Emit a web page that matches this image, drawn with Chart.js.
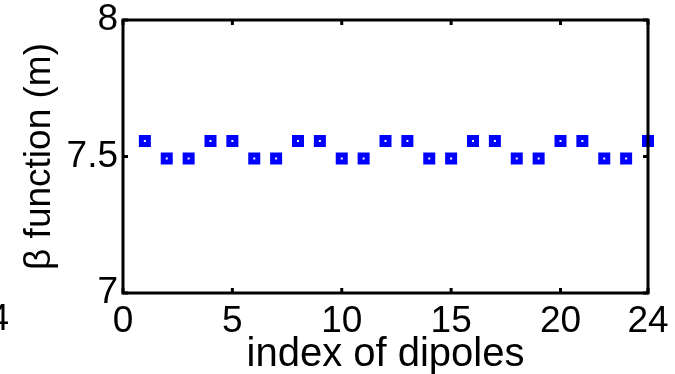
<!DOCTYPE html>
<html>
<head>
<meta charset="utf-8">
<script src="https://cdn.jsdelivr.net/npm/chart.js@4/dist/chart.umd.min.js"></script>
<style>
  html, body { margin: 0; padding: 0; background: #fff; }
  #wrap { width: 675px; height: 374px; position: relative; }
</style>
</head>
<body>
<div id="wrap"><canvas id="beta"></canvas></div>
<script>
// dipole index and beta function at each dipole
const dipoles = [1, 2, 3, 4, 5, 6, 7, 8, 9, 10, 11, 12, 13, 14, 15, 16, 17, 18, 19, 20, 21, 22, 23, 24];
const beta = [7.557, 7.493, 7.493, 7.557, 7.557, 7.493, 7.493, 7.557, 7.557, 7.493, 7.493, 7.557,
              7.557, 7.493, 7.493, 7.557, 7.557, 7.493, 7.493, 7.557, 7.557, 7.493, 7.493, 7.557];
const xTicks = [0, 5, 10, 15, 20, 24];
const yTicks = [7, 7.5, 8];
const yTickLabels = ['7', '7.5', '8'];

const FONT = 'Liberation Sans, Arial, Helvetica, sans-serif';

// matlab-style box with inward ticks on all four sides
const boxPlugin = {
  id: 'box',
  afterDatasetsDraw(chart) {
    const { ctx, chartArea: a, scales } = chart;
    ctx.save();
    ctx.strokeStyle = '#000';
    ctx.lineWidth = 3;
    const t = 5;
    ctx.beginPath();
    xTicks.forEach(v => {
      const px = scales.x.getPixelForValue(v);
      ctx.moveTo(px, a.bottom); ctx.lineTo(px, a.bottom - t);
      ctx.moveTo(px, a.top); ctx.lineTo(px, a.top + t);
    });
    yTicks.forEach(v => {
      const py = scales.y.getPixelForValue(v);
      ctx.moveTo(a.left, py); ctx.lineTo(a.left + t, py);
      ctx.moveTo(a.right, py); ctx.lineTo(a.right - t, py);
    });
    ctx.stroke();
    ctx.strokeRect(a.left, a.top, a.right - a.left, a.bottom - a.top);
    ctx.restore();
  },
  afterDraw(chart) {
    // end label of the neighbouring panel's axis, cut by the edge
    const { ctx } = chart;
    ctx.save();
    ctx.font = '36px ' + FONT;
    ctx.fillStyle = '#000';
    ctx.textAlign = 'right';
    ctx.textBaseline = 'middle';
    ctx.fillText('24', 9, 320);
    ctx.restore();
  }
};

new Chart(document.getElementById('beta'), {
  type: 'scatter',
  data: {
    datasets: [{
      data: dipoles.map((d, i) => ({ x: d, y: beta[i] })),
      pointStyle: 'rect',
      pointRadius: 4.95,
      pointHoverRadius: 4.95,
      borderWidth: 5,
      pointBorderWidth: 5,
      pointBorderColor: '#0000ff',
      pointBackgroundColor: '#ffffff',
      clip: false
    }]
  },
  plugins: [boxPlugin],
  options: {
    responsive: true,
    maintainAspectRatio: false,
    animation: false,
    layout: { padding: { top: 20, right: 27, left: 0, bottom: 0 } },
    plugins: {
      legend: { display: false },
      tooltip: { enabled: false }
    },
    scales: {
      x: {
        type: 'linear',
        min: 0,
        max: 24,
        afterBuildTicks: s => { s.ticks = xTicks.map(v => ({ value: v })); },
        afterFit: s => { s.height = 81; s.paddingLeft = 0; s.paddingRight = 0; },
        grid: { display: false, drawTicks: false },
        border: { display: false },
        ticks: {
          color: '#000',
          padding: 7,
          maxRotation: 0,
          font: { size: 37, family: FONT }
        },
        title: {
          display: true,
          text: 'index of dipoles',
          color: '#000',
          padding: { top: 0, bottom: -5 },
          font: { size: 40, family: FONT }
        }
      },
      y: {
        min: 7,
        max: 8,
        afterBuildTicks: s => { s.ticks = yTicks.map(v => ({ value: v })); },
        afterFit: s => { s.width = 123; s.paddingTop = 0; s.paddingBottom = 0; },
        grid: { display: false, drawTicks: false },
        border: { display: false },
        ticks: {
          color: '#000',
          padding: 5,
          font: { size: 37, family: FONT },
          callback: (v, i) => yTickLabels[i]
        },
        title: {
          display: true,
          text: 'β function (m)',
          color: '#000',
          padding: { top: 18, bottom: 0 },
          font: { size: 37, family: FONT }
        }
      }
    }
  }
});
</script>
</body>
</html>
